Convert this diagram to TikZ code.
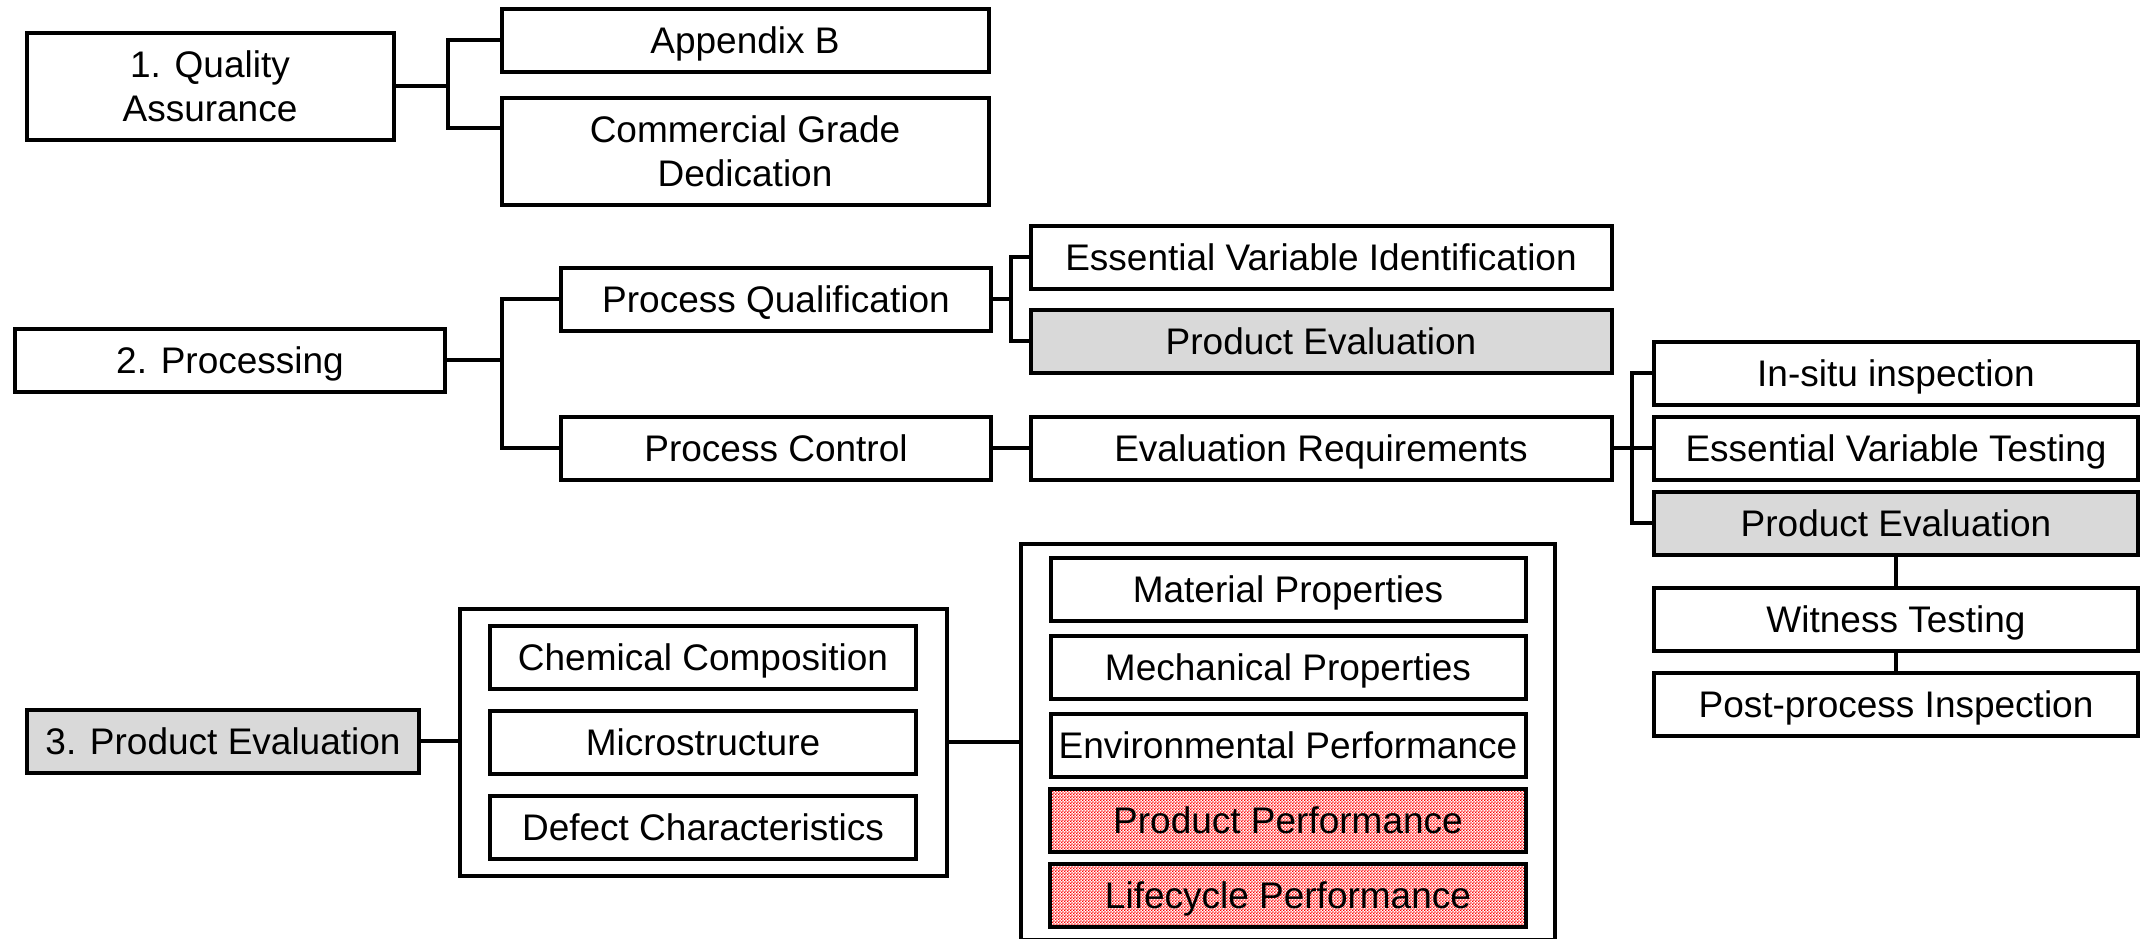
\documentclass[tikz,border=0pt]{standalone}
\usepackage{fontspec}
\setmainfont{Liberation Sans}
\usetikzlibrary{positioning,fit,patterns}

% red checker dots for the two performance boxes
\pgfdeclarepatternformonly{fine dots}{\pgfpointorigin}{\pgfqpoint{1.6pt}{1.6pt}}{\pgfqpoint{1.6pt}{1.6pt}}%
{\pgfpathrectangle{\pgfpointorigin}{\pgfqpoint{0.8pt}{0.8pt}}%
\pgfpathrectangle{\pgfqpoint{0.8pt}{0.8pt}}{\pgfqpoint{0.8pt}{0.8pt}}\pgfusepath{fill}}

\begin{document}
\begin{tikzpicture}
[x=0.5pt,y=-0.5pt,
frame/.style={rectangle,draw=black,fill=white,line width=2pt,
inner sep=0pt,minimum height=31.5pt,
font=\fontsize{18.5pt}{22pt}\selectfont},
box/.style={frame,text height=13.2pt,text depth=0pt},
tall box/.style={frame,align=center,minimum height=53.5pt},
grey box/.style={box,fill=black!15},
red box/.style={box,fill=none,pattern=fine dots,pattern color=red},
group/.style={rectangle,draw=black,line width=2pt},
link/.style={line width=1.75pt}]

\useasboundingbox (0,0) rectangle (2154,938);

% 1. Quality assurance
\node[tall box,minimum width=183.5pt] (qa) at (210,86) {1. Quality\\Assurance};
\node[box,minimum width=243.5pt] (appb) at (745,40) {Appendix B};
\node[tall box,minimum width=243.5pt] (cgd) at (745,151) {Commercial Grade\\Dedication};

\coordinate (qaj) at (448,86);
\draw[link] (qa) -- (qaj) |- (appb);
\draw[link] (qaj) |- ([yshift=11.5pt]cgd.west);

% 2. Processing
\node[box,minimum width=215pt] (proc) at (230,360) {2. Processing};
\node[box,minimum width=215pt] (pq) at (776,299) {Process Qualification};
\node[box,minimum width=215pt] (pc) at (776,448) {Process Control};
\node[box,minimum width=290.5pt] (evi) at (1321,257) {Essential Variable Identification};
\node[grey box,minimum width=290.5pt] (pe1) [below=8.5pt of evi] {Product Evaluation};
\node[box,minimum width=290.5pt] (er) at (1321,448) {Evaluation Requirements};

\node[box,minimum width=242pt] (insitu) at (1896,373) {In-situ inspection};
\node[box,minimum width=242pt] (evt) [below=4pt of insitu] {Essential Variable Testing};
\node[grey box,minimum width=242pt] (pe2) [below=4pt of evt] {Product Evaluation};
\node[box,minimum width=242pt] (wit) [below=14.5pt of pe2] {Witness Testing};
\node[box,minimum width=242pt] (post) [below=9pt of wit] {Post-process Inspection};

\coordinate (procj) at (502,360);
\draw[link] (proc) -- (procj) |- (pq);
\draw[link] (procj) |- (pc);

\coordinate (pqj) at (1011,299);
\draw[link] (pq) -- (pqj) |- (evi);
\draw[link] (pqj) |- (pe1);

\draw[link] (pc) -- (er);

\coordinate (erj) at (1632,448);
\draw[link] (er) -- (erj) |- (insitu);
\draw[link] (erj) |- (evt);
\draw[link] (erj) |- (pe2);

\draw[link] (pe2) -- (wit);
\draw[link] (wit) -- (post);

% 3. Product evaluation
\node[grey box,minimum width=196pt] (pe3) at (223,741) {3. Product Evaluation};

\node[box,minimum width=213pt] (chem) at (703,657) {Chemical Composition};
\node[box,minimum width=213pt] (micro) [below=9pt of chem] {Microstructure};
\node[box,minimum width=213pt] (defect) [below=9pt of micro] {Defect Characteristics};
\node[group,inner xsep=14.25pt,inner ysep=7.5pt,fit=(chem)(micro)(defect)] (grpA) {};

\node[box,minimum width=237.5pt] (mat) at (1288,589) {Material Properties};
\node[box,minimum width=237.5pt] (mech) [below=5.5pt of mat] {Mechanical Properties};
\node[box,minimum width=237.5pt] (env) [below=5.5pt of mech] {Environmental Performance};
\node[red box,minimum width=238pt] (prodperf) [below=4pt of env] {Product Performance};
\node[red box,minimum width=238pt] (life) [below=4pt of prodperf] {Lifecycle Performance};
\node[group,inner xsep=13.5pt,inner ysep=5.75pt,fit=(mat)(mech)(env)(prodperf)(life)] (grpB) {};

\draw[link] (pe3.east) -- (pe3.east -| grpA.west);
\draw[link] (grpA) -- (grpB);

\end{tikzpicture}
\end{document}
